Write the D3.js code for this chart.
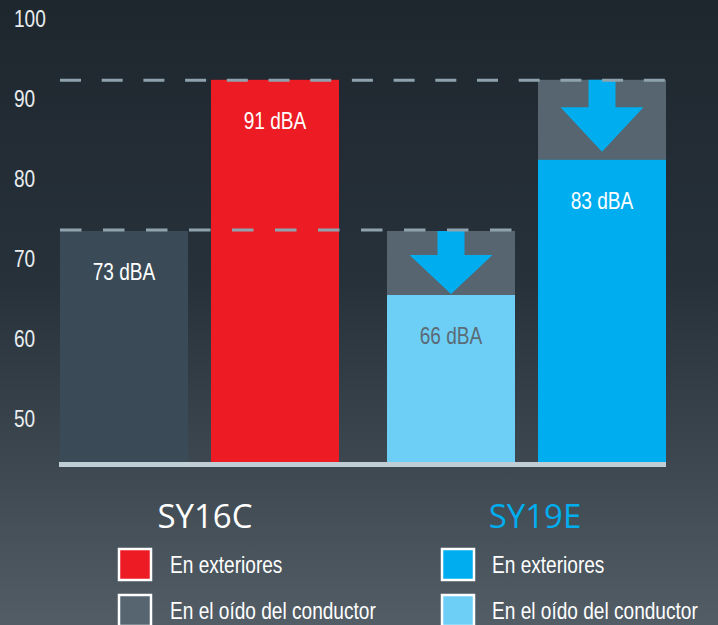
<!DOCTYPE html>
<html>
<head>
<meta charset="utf-8">
<script src="https://cdn.jsdelivr.net/npm/d3@7/dist/d3.min.js"></script>
<style>
  html, body { margin: 0; padding: 0; background: #1f2830; }
  svg { display: block; }
</style>
</head>
<body>
<div id="chart"></div>
<script>
// data (bar tops read against the axis, labels as printed)
const models = ["SY16C", "SY19E"];
const exterior = [92.4, 82.4];          // SY19E top of coloured part; grey cap goes up to SY16C level
const cabin = [73.5, 65.5];
const exteriorLabels = ["91 dBA", "83 dBA"];
const cabinLabels = ["73 dBA", "66 dBA"];
const yTicks = [50, 60, 70, 80, 90, 100];
const legendItems = ["En exteriores", "En el oído del conductor"];

const width = 718, height = 625;
const font = "'Liberation Sans', Arial, sans-serif";
const squeeze = 0.83;   // narrow look of the original condensed face

const svg = d3.select("#chart").append("svg")
    .attr("width", width)
    .attr("height", height);

const defs = svg.append("defs");
const grad = defs.append("linearGradient")
    .attr("id", "bg").attr("x1", 0).attr("y1", 0).attr("x2", 0).attr("y2", 1);
grad.append("stop").attr("offset", "0%").attr("stop-color", "#1e272e");
grad.append("stop").attr("offset", "45%").attr("stop-color", "#27313a");
grad.append("stop").attr("offset", "75%").attr("stop-color", "#3d4850");
grad.append("stop").attr("offset", "100%").attr("stop-color", "#525d66");
svg.append("rect").attr("width", width).attr("height", height).attr("fill", "url(#bg)");

const y = d3.scaleLinear().domain([44.5, 100]).range([463, 19]);

const xPos = {c0: 60, e0: 211, c1: 387, e1: 538};
const bw = 128;

const colors = {
    cabin0: "#3a4b57", ext0: "#ed1c24",
    cabin1: "#6dcff6", ext1: "#00aeef",
    cap: "#56656f"
};

function narrowText(sel, x, y, anchor) {
    return sel.append("text")
        .attr("transform", `translate(${x},${y}) scale(${squeeze},1)`)
        .attr("text-anchor", anchor || "start")
        .style("font-family", font)
        .style("font-size", "23px");
}

// y axis labels
const axis = svg.append("g")
    .attr("transform", "translate(14,0)")
    .call(d3.axisLeft(y).tickValues(yTicks).tickSize(0).tickPadding(0));
axis.select(".domain").remove();
axis.selectAll("text")
    .attr("x", 0)
    .attr("text-anchor", "start")
    .attr("transform", `scale(${squeeze},1)`)
    .attr("fill", "#e8ecef")
    .style("font-family", font)
    .style("font-size", "23px");

const g = svg.append("g");
const base = y(44.5) - 1;

// SY16C
g.append("rect").attr("x", xPos.c0).attr("width", bw)
    .attr("y", y(cabin[0])).attr("height", base - y(cabin[0])).attr("fill", colors.cabin0);
g.append("rect").attr("x", xPos.e0).attr("width", bw)
    .attr("y", y(exterior[0])).attr("height", base - y(exterior[0])).attr("fill", colors.ext0);

// SY19E: grey caps show reduction from SY16C level
g.append("rect").attr("x", xPos.c1).attr("width", bw)
    .attr("y", y(cabin[0])).attr("height", base - y(cabin[0])).attr("fill", colors.cap);
g.append("rect").attr("x", xPos.c1).attr("width", bw)
    .attr("y", y(cabin[1])).attr("height", base - y(cabin[1])).attr("fill", colors.cabin1);
g.append("rect").attr("x", xPos.e1).attr("width", bw)
    .attr("y", y(exterior[0])).attr("height", base - y(exterior[0])).attr("fill", colors.cap);
g.append("rect").attr("x", xPos.e1).attr("width", bw)
    .attr("y", y(exterior[1])).attr("height", base - y(exterior[1])).attr("fill", colors.ext1);

// arrows in grey caps
function arrow(cx, top, tip) {
    const stemEnd = top + (tip - top) * 0.38;
    const path = d3.path();
    path.moveTo(cx - 13.5, top);
    path.lineTo(cx + 13.5, top);
    path.lineTo(cx + 13.5, stemEnd);
    path.lineTo(cx + 41.5, stemEnd);
    path.lineTo(cx, tip);
    path.lineTo(cx - 41.5, stemEnd);
    path.lineTo(cx - 13.5, stemEnd);
    path.closePath();
    g.append("path").attr("d", path.toString()).attr("fill", colors.ext1);
}
arrow(xPos.c1 + bw / 2, y(cabin[0]), y(cabin[1]) - 1);
arrow(xPos.e1 + bw / 2, y(exterior[0]), y(exterior[1]) - 8);

// baseline
g.append("line")
    .attr("x1", 59).attr("x2", 666)
    .attr("y1", base + 2.5).attr("y2", base + 2.5)
    .attr("stroke", "#bfcdd4").attr("stroke-width", 5);

// dashed reference lines
g.append("line")
    .attr("x1", 60).attr("x2", 666)
    .attr("y1", y(exterior[0]) + 0.5).attr("y2", y(exterior[0]) + 0.5)
    .attr("stroke", "#8fa3ae").attr("stroke-width", 3)
    .attr("stroke-dasharray", "21,20.7");
g.append("line")
    .attr("x1", 60).attr("x2", 515)
    .attr("y1", y(cabin[0]) - 1).attr("y2", y(cabin[0]) - 1)
    .attr("stroke", "#8fa3ae").attr("stroke-width", 3)
    .attr("stroke-dasharray", "21.5,21.5");

// value labels
const labels = [
    {x: xPos.c0, v: cabin[0], t: cabinLabels[0], c: "#ffffff"},
    {x: xPos.e0, v: exterior[0], t: exteriorLabels[0], c: "#ffffff"},
    {x: xPos.c1, v: cabin[1], t: cabinLabels[1], c: "#5b6b76"},
    {x: xPos.e1, v: exterior[1], t: exteriorLabels[1], c: "#ffffff"}
];
labels.forEach(d => {
    narrowText(g, d.x + bw / 2, y(d.v) + 49, "middle")
        .attr("fill", d.c)
        .text(d.t);
});

// legend
const legend = [
    {cx: 205, color: "#ffffff", sq: [colors.ext0, colors.cap], bx: 119, tx: 170},
    {cx: 535, color: "#00aeef", sq: [colors.ext1, colors.cabin1], bx: 442, tx: 492}
];
legend.forEach((l, i) => {
    svg.append("text")
        .attr("x", l.cx).attr("y", 528)
        .attr("text-anchor", "middle")
        .attr("fill", l.color)
        .style("font-family", "'Open Sans', 'Noto Sans', sans-serif")
        .style("font-size", "33px")
        .text(models[i]);
    legendItems.forEach((item, j) => {
        const yy = 549 + j * 46;
        svg.append("rect")
            .attr("x", l.bx).attr("y", yy)
            .attr("width", 32).attr("height", 31)
            .attr("fill", l.sq[j])
            .attr("stroke", "#ffffff").attr("stroke-width", 2.5);
        narrowText(svg, l.tx, yy + 24, "start")
            .attr("fill", "#ffffff")
            .text(item);
    });
});
</script>
</body>
</html>
